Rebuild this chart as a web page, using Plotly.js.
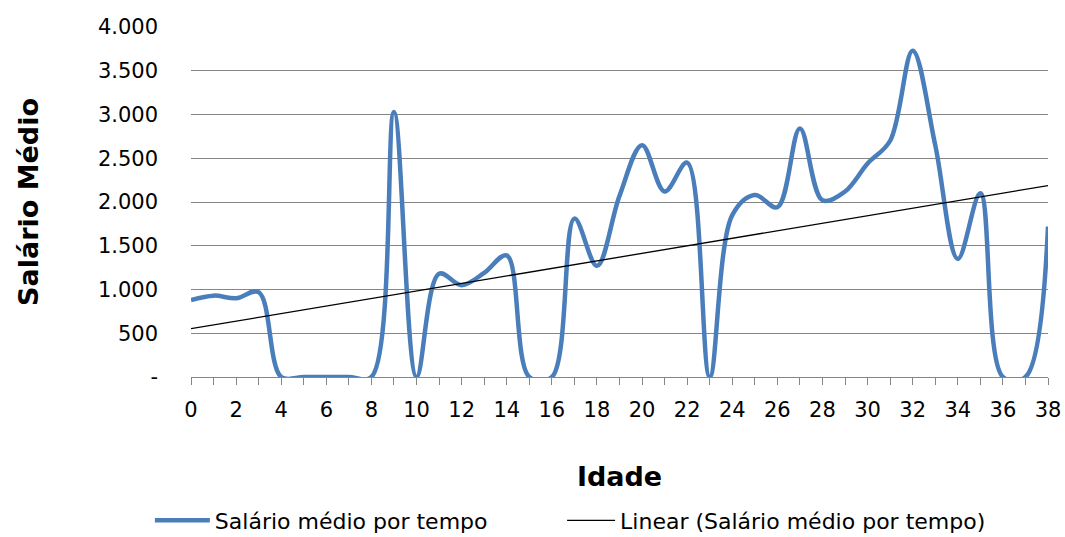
<!DOCTYPE html>
<html>
<head>
<meta charset="utf-8">
<script src="https://cdn.plot.ly/plotly-3.0.1.min.js"></script>
<style>html,body{margin:0;padding:0;background:#fff;}#chart{width:1065px;height:537px;}</style>
</head>
<body>
<div id="chart"></div>
<script>
// Idade (categories)
const idade = [0,1,2,3,4,5,6,7,8,9,10,11,12,13,14,15,16,17,18,19,20,21,22,23,24,25,26,27,28,29,30,31,32,33,34,35,36,37,38];
// Salário médio por tempo
const salario = [880,930,900,970,0,0,0,0,0,3030,0,1180,1050,1190,1390,0,0,1810,1270,2070,2650,2120,2450,0,1850,2080,1940,2840,2020,2120,2440,2700,3730,2650,1350,2100,0,0,1720];
const yTickVals = [0,500,1000,1500,2000,2500,3000,3500,4000];
const yTickText = ['-','500','1.000','1.500','2.000','2.500','3.000','3.500','4.000'];
const xTickText = idade.map(v => v % 2 === 0 ? String(v) : '');

// Linear trend line (least squares, like Excel's "Linear" trendline)
const n = idade.length;
const mx = idade.reduce((a,b)=>a+b,0)/n;
const my = salario.reduce((a,b)=>a+b,0)/n;
let sxy = 0, sxx = 0;
for (let i=0;i<n;i++){ sxy += (idade[i]-mx)*(salario[i]-my); sxx += (idade[i]-mx)**2; }
const slope = sxy/sxx, icpt = my - slope*mx;
const trendX = [idade[0], idade[n-1]];
const trendY = trendX.map(x => icpt + slope*x);

const FONT = 'DejaVu Sans, sans-serif';
const grid = '#868686';

const traces = [
  {x: idade, y: salario, type:'scatter', mode:'lines', name:'Salário médio por tempo',
   legend:'legend',
   line:{color:'#4a7ebb', width:4.5, shape:'spline', smoothing:1}},
  {x: trendX, y: trendY, type:'scatter', mode:'lines', name:'Linear (Salário médio por tempo)',
   legend:'legend2',
   line:{color:'#000000', width:1.3}}
];

const legendBase = {
  orientation:'h', xanchor:'left', y:-0.41, yanchor:'middle',
  font:{family:FONT, size:22, color:'#000'},
  bgcolor:'rgba(0,0,0,0)', borderwidth:0
};

const layout = {
  width:1065, height:537,
  margin:{l:191, r:17, t:27, b:160, autoexpand:false},
  paper_bgcolor:'#ffffff', plot_bgcolor:'#ffffff',
  font:{family:FONT, size:20, color:'#000'},
  showlegend:true,
  xaxis:{
    range:[0,38], tickmode:'array', tickvals:idade, ticktext:xTickText,
    ticks:'outside', ticklen:7, tickwidth:1, tickcolor:grid,
    showline:true, linecolor:grid, linewidth:1,
    showgrid:false, zeroline:false, fixedrange:true, automargin:false,
    tickfont:{family:FONT, size:21, color:'#000'},
    ticklabelstandoff:7,
    title:{text:'Idade', font:{family:'DejaVu Sans, sans-serif', size:27, color:'#000', weight:'bold'}, standoff:45}
  },
  yaxis:{
    range:[0,4000], tickmode:'array', tickvals:yTickVals, ticktext:yTickText,
    ticks:'', showline:false, showgrid:true, gridcolor:grid, gridwidth:1,
    zeroline:false, fixedrange:true, automargin:false,
    tickfont:{family:FONT, size:21, color:'#000'},
    ticklabelstandoff:32,
    title:{text:'Salário Médio', font:{family:'DejaVu Sans, sans-serif', size:27, color:'#000', weight:'bold'}, standoff:51}
  },
  legend: Object.assign({}, legendBase, {x:-0.048, itemwidth:55}),
  legend2: Object.assign({}, legendBase, {x:0.433, itemwidth:48})
};

Plotly.newPlot('chart', traces, layout, {staticPlot:true, displayModeBar:false});
</script>
</body>
</html>
